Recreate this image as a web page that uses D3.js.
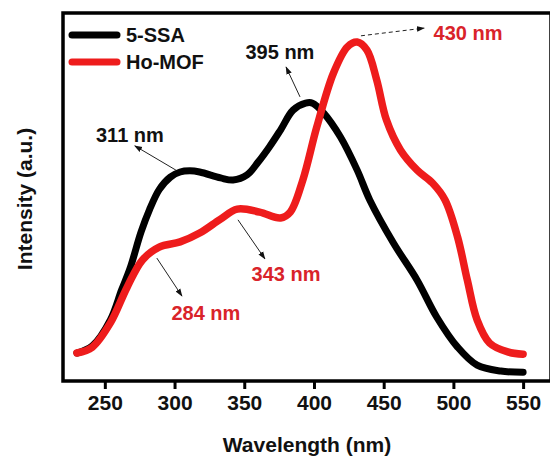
<!DOCTYPE html>
<html>
<head>
<meta charset="utf-8">
<script src="https://cdn.jsdelivr.net/npm/d3@7"></script>
<style>
  html, body { margin: 0; padding: 0; background: #fff; }
  svg { display: block; font-family: Arial, "Liberation Sans", sans-serif; font-weight: bold; }
</style>
</head>
<body>
<div id="chart"></div>
<script>
// data (wavelength in nm, intensity in a.u.)
var ssaWave = [230, 241, 254, 262, 268, 276, 282, 289, 297, 304, 311, 318, 333, 342, 352, 360,
               368, 376, 385, 394, 399, 407, 419, 431, 440, 457, 474, 488, 503, 517, 534, 550];
var ssaInt  = [7.6, 9.5, 16.6, 24.7, 30.5, 40.5, 46.5, 52, 55.4, 56.8, 57.1, 56.8, 55.2, 54.6, 56, 59.5,
               63.6, 68.2, 73.6, 75.5, 75.5, 72.8, 66.3, 57.3, 49.2, 37.5, 27.4, 17.4, 9.2, 4.3, 2.7, 2.4];

var mofWave = [230, 241, 254, 266, 277, 289, 304, 318, 333, 345, 361, 376, 383, 392, 402, 414,
               424, 431, 438, 445, 452, 462, 474, 485, 494, 503, 510, 517, 526, 539, 550];
var mofInt  = [7.6, 9.2, 15.8, 25.5, 32.9, 36.4, 37.8, 40.2, 44, 46.7, 45.9, 44.3, 45.9, 54.6, 69, 83.7,
               90.8, 92.1, 89.9, 81.8, 70.9, 62.8, 57.3, 53.8, 49.2, 39.1, 27.4, 16.6, 10.3, 7.9, 7.3];

var seriesNames = ["5-SSA", "Ho-MOF"];
var xTicks = [250, 300, 350, 400, 450, 500, 550];

// peak labels: arrow from (w0,i0) to (w1,i1), label at (lw,li)
var peakLabels  = ["311 nm", "395 nm", "430 nm", "343 nm", "284 nm"];
var peakSeries  = [0, 0, 1, 1, 1];
var peakFrom    = [[301, 57.3], [390, 77.2], [433.7, 93.8], [345.5, 43.8], [287.3, 33.4]];
var peakTo      = [[271.5, 63.9], [380, 85.3], [479, 95.9], [364.8, 33.2], [305.3, 23.1]];
var peakText    = [[268, 66.8], [375.6, 89.4], [510.5, 94.6], [380, 29.1], [322.5, 18.5]];
var peakDashed  = [false, false, true, false, false];

var lineColors = ["#000000", "#ee1c1c"];
var textColors = ["#111111", "#d9232a"];

var W = 550, H = 458;
var margin = { top: 13, right: -1, bottom: 77, left: 63 };

var svg = d3.select("#chart").append("svg")
    .attr("width", W)
    .attr("height", H);

var x = d3.scaleLinear().domain([220, 570]).range([margin.left, W - margin.right]);
var y = d3.scaleLinear().domain([0, 100]).range([H - margin.bottom, margin.top]);

svg.append("defs").append("marker")
    .attr("id", "arrowhead")
    .attr("viewBox", "0 0 10 10")
    .attr("refX", 9).attr("refY", 5)
    .attr("markerWidth", 8).attr("markerHeight", 8)
    .attr("orient", "auto")
  .append("path")
    .attr("d", "M0,1.5 L10,5 L0,8.5 z")
    .attr("fill", "#111");

// curves
var line = d3.line()
    .x(function(d) { return x(d[0]); })
    .y(function(d) { return y(d[1]); })
    .curve(d3.curveCatmullRom.alpha(0.5));

var series = [d3.zip(ssaWave, ssaInt), d3.zip(mofWave, mofInt)];

svg.selectAll(".curve")
    .data(series)
  .enter().append("path")
    .attr("class", "curve")
    .attr("fill", "none")
    .attr("stroke", function(d, i) { return lineColors[i]; })
    .attr("stroke-width", function(d, i) { return i == 0 ? 7 : 7.5; })
    .attr("stroke-linecap", "round")
    .attr("stroke-linejoin", "round")
    .attr("d", line);

// frame
svg.append("rect")
    .attr("x", x(220)).attr("y", y(100))
    .attr("width", x(570) - x(220))
    .attr("height", y(0) - y(100))
    .attr("fill", "none")
    .attr("stroke", "#000")
    .attr("stroke-width", 3.5);

// x axis
var xAxis = svg.append("g")
    .attr("transform", "translate(0," + y(0) + ")")
    .call(d3.axisBottom(x).tickValues(xTicks).tickSize(8).tickPadding(6).tickFormat(d3.format("d")));
xAxis.select(".domain").remove();
xAxis.selectAll(".tick line").attr("stroke", "#000").attr("stroke-width", 3);
xAxis.selectAll(".tick text")
    .attr("fill", "#111")
    .style("font-size", "21px")
    .style("font-weight", "bold")
    .style("font-family", "Arial, 'Liberation Sans', sans-serif");

// axis titles
svg.append("text")
    .attr("x", x(395)).attr("y", 452)
    .attr("text-anchor", "middle")
    .attr("font-size", "21px")
    .attr("fill", "#111")
    .text("Wavelength (nm)");

svg.append("text")
    .attr("transform", "translate(32," + ((y(0) + y(100)) / 2 + 2) + ") rotate(-90)")
    .attr("text-anchor", "middle")
    .attr("font-size", "21px")
    .attr("fill", "#111")
    .text("Intensity (a.u.)");

// legend
var legend = svg.selectAll(".legend")
    .data(seriesNames)
  .enter().append("g")
    .attr("class", "legend")
    .attr("transform", function(d, i) { return "translate(72," + (35 + i * 27) + ")"; });

legend.append("line")
    .attr("x1", 0).attr("x2", 45)
    .attr("stroke", function(d, i) { return lineColors[i]; })
    .attr("stroke-width", 7)
    .attr("stroke-linecap", "round");

legend.append("text")
    .attr("x", 54).attr("dy", "0.36em")
    .attr("font-size", "20px")
    .attr("fill", "#111")
    .text(function(d) { return d; });

// peak annotations
var peaks = svg.selectAll(".peak")
    .data(peakLabels)
  .enter().append("g")
    .attr("class", "peak");

peaks.append("line")
    .attr("x1", function(d, i) { return x(peakFrom[i][0]); })
    .attr("y1", function(d, i) { return y(peakFrom[i][1]); })
    .attr("x2", function(d, i) { return x(peakTo[i][0]); })
    .attr("y2", function(d, i) { return y(peakTo[i][1]); })
    .attr("stroke", "#222")
    .attr("stroke-width", 1)
    .attr("stroke-dasharray", function(d, i) { return peakDashed[i] ? "4,3" : null; })
    .attr("marker-end", "url(#arrowhead)");

peaks.append("text")
    .attr("x", function(d, i) { return x(peakText[i][0]); })
    .attr("y", function(d, i) { return y(peakText[i][1]); })
    .attr("dy", "0.36em")
    .attr("text-anchor", "middle")
    .attr("font-size", "20px")
    .attr("fill", function(d, i) { return textColors[peakSeries[i]]; })
    .text(function(d) { return d; });
</script>
</body>
</html>
